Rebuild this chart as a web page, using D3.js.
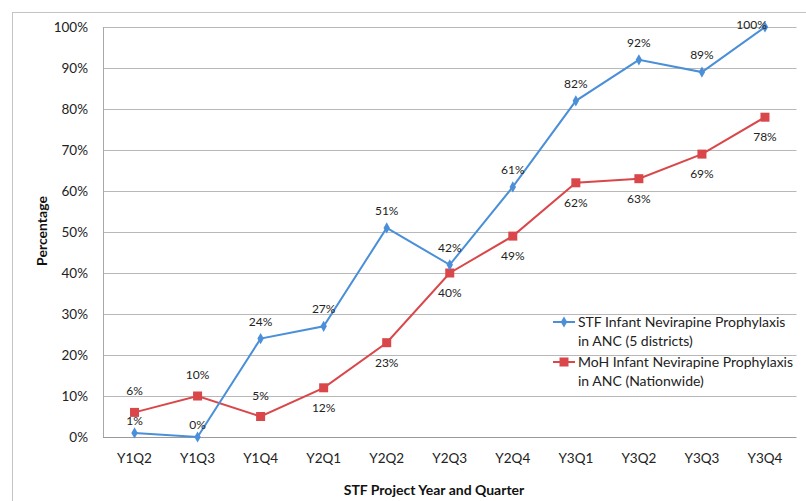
<!DOCTYPE html>
<html>
<head>
<meta charset="utf-8">
<script src="https://cdn.jsdelivr.net/npm/d3@7"></script>
<style>
  body { margin: 0; background: #fff; }
  svg { display: block; font-family: "Lato", "Open Sans", sans-serif; }
</style>
</head>
<body>
<div id="chart"></div>
<script>
// データ
const quarters = ["Y1Q2", "Y1Q3", "Y1Q4", "Y2Q1", "Y2Q2", "Y2Q3", "Y2Q4", "Y3Q1", "Y3Q2", "Y3Q3", "Y3Q4"];
const stfValues = [1, 0, 24, 27, 51, 42, 61, 82, 92, 89, 100];
const mohValues = [6, 10, 5, 12, 23, 40, 49, 62, 63, 69, 78];
const mohLabelSide = ["above", "above", "above", "below", "below", "below", "below", "below", "below", "below", "below"];
const yTicks = [0, 10, 20, 30, 40, 50, 60, 70, 80, 90, 100];
const seriesNames = [
  ["STF Infant Nevirapine Prophylaxis", "in ANC (5 districts)"],
  ["MoH Infant Nevirapine Prophylaxis", "in ANC (Nationwide)"]
];

const W = 806, H = 501;
const margin = { top: 27, right: 10, bottom: 64, left: 103 };
const blue = "#4a8fd8", red = "#d9474a";

const svg = d3.select("#chart").append("svg").attr("width", W).attr("height", H);

// 外枠
svg.append("rect")
  .attr("x", 12.5).attr("y", 12.5).attr("width", W).attr("height", H)
  .attr("fill", "none").attr("stroke", "#c4c4c4");

const x = d3.scaleBand().domain(quarters).range([margin.left, W - margin.right + 0.5]);
const y = d3.scaleLinear().domain([0, 100]).range([H - margin.bottom, margin.top]);
const cx = d => x(d) + x.bandwidth() / 2;

// グリッド線
svg.append("g").selectAll("line").data(yTicks).enter().append("line")
  .attr("x1", margin.left).attr("x2", x.range()[1])
  .attr("y1", d => Math.round(y(d)) + 0.5).attr("y2", d => Math.round(y(d)) + 0.5)
  .attr("stroke", d => d === 0 ? "#9a9a9a" : "#b8b8b8").attr("stroke-width", 1);

// 縦軸線
svg.append("line")
  .attr("x1", margin.left + 0.5).attr("x2", margin.left + 0.5)
  .attr("y1", y(100)).attr("y2", y(0))
  .attr("stroke", "#a8a8a8");

// Y目盛りラベル
svg.append("g").selectAll("text").data(yTicks).enter().append("text")
  .attr("x", 88).attr("y", d => y(d)).attr("dy", "0.35em")
  .attr("text-anchor", "end").attr("font-size", 13.5).attr("fill", "#222")
  .text(d => d + "%");

// X目盛りラベル
svg.append("g").selectAll("text").data(quarters).enter().append("text")
  .attr("x", d => cx(d)).attr("y", 463)
  .attr("text-anchor", "middle").attr("font-size", 13.5).attr("fill", "#222")
  .text(d => d);

// 軸タイトル
svg.append("text")
  .attr("x", 434).attr("y", 495).attr("text-anchor", "middle")
  .attr("font-size", 14).attr("font-weight", "bold").attr("fill", "#111")
  .text("STF Project Year and Quarter");

svg.append("text")
  .attr("transform", "translate(47,231) rotate(-90)").attr("text-anchor", "middle")
  .attr("font-size", 14).attr("font-weight", "bold").attr("fill", "#111")
  .text("Percentage");

const line = d3.line().x((d, i) => cx(quarters[i])).y(d => y(d));

// MoH 系列
svg.append("path").datum(mohValues)
  .attr("d", line).attr("fill", "none").attr("stroke", red).attr("stroke-width", 2);
svg.append("g").selectAll("rect").data(mohValues).enter().append("rect")
  .attr("x", (d, i) => cx(quarters[i]) - 4.5).attr("y", d => y(d) - 4.5)
  .attr("width", 9).attr("height", 9).attr("fill", red);

// STF 系列
svg.append("path").datum(stfValues)
  .attr("d", line).attr("fill", "none").attr("stroke", blue).attr("stroke-width", 2);
const diamond = d3.symbol().type(d3.symbolDiamond).size(36);
svg.append("g").selectAll("path").data(stfValues).enter().append("path")
  .attr("d", diamond)
  .attr("transform", (d, i) => `translate(${cx(quarters[i])},${y(d)})`)
  .attr("fill", blue);

// データラベル
svg.append("g").selectAll("text").data(mohValues).enter().append("text")
  .attr("x", (d, i) => cx(quarters[i]))
  .attr("y", (d, i) => mohLabelSide[i] === "above" ? y(d) - 17 : y(d) + 24)
  .attr("text-anchor", "middle").attr("font-size", 12).attr("fill", "#222")
  .text(d => d + "%");

svg.append("g").selectAll("text").data(stfValues).enter().append("text")
  .attr("x", (d, i) => Math.min(cx(quarters[i]), x.range()[1] - 45))
  .attr("y", d => d < 5 ? y(d) - 8 : Math.max(y(d) - 13, 29))
  .attr("text-anchor", "middle").attr("font-size", 12).attr("fill", "#222")
  .text(d => d + "%");

// 凡例
const legend = svg.append("g").attr("transform", "translate(553,322)");
[blue, red].forEach((c, k) => {
  const g = legend.append("g").attr("transform", `translate(0,${k * 40})`);
  g.append("line").attr("x1", 0).attr("x2", 22).attr("y1", 0).attr("y2", 0)
    .attr("stroke", c).attr("stroke-width", 2);
  if (k === 0) {
    g.append("path").attr("d", diamond).attr("transform", "translate(11,0)").attr("fill", c);
  } else {
    g.append("rect").attr("x", 6.5).attr("y", -4.5).attr("width", 9).attr("height", 9).attr("fill", c);
  }
  seriesNames[k].forEach((t, j) => {
    g.append("text").attr("x", 25).attr("y", j * 19).attr("dy", "0.35em")
      .attr("font-size", 14).attr("fill", "#222").text(t);
  });
});
</script>
</body>
</html>
